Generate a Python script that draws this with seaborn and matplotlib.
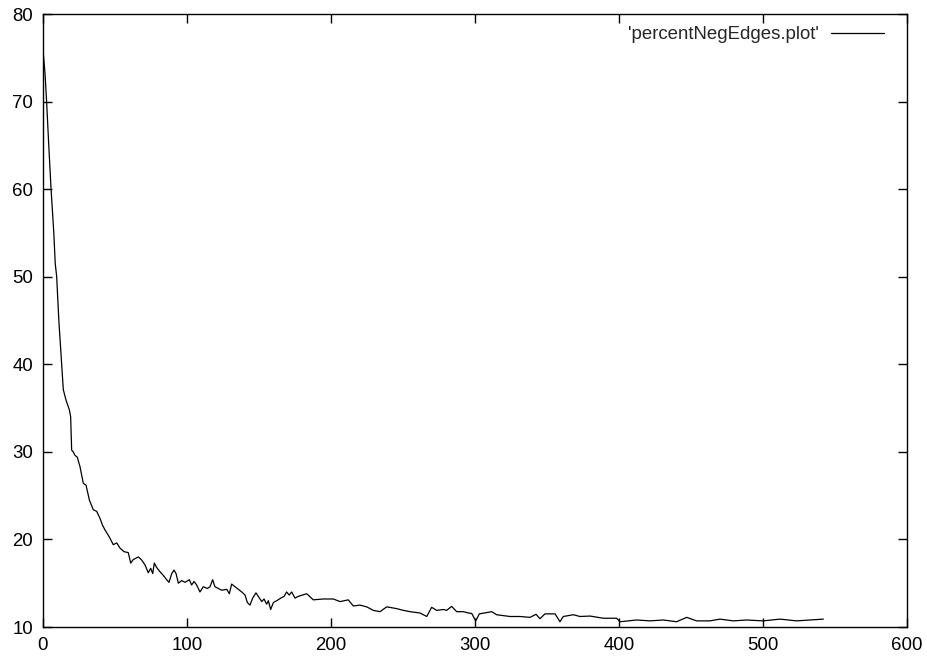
import matplotlib
matplotlib.use("Agg")
import matplotlib.pyplot as plt
import seaborn as sns
import pandas as pd

iteration = [0, 1.4, 2.5, 4, 5.6, 7.5, 8.5, 9.5, 11, 13, 14.1, 16, 18.3, 19.2, 19.9, 21, 22.2,
             23.8, 25.7, 28, 29.9, 32.2, 34.9, 37.3, 39.6, 41.4, 43, 46, 48.8, 51.2, 53.5, 56.3,
             59.2, 60.9, 62.7, 66.2, 68.5, 70.8, 73.1, 74.8, 76.2, 77.3, 78.9, 81.3, 83.5, 85.9,
             87.5, 89.4, 91, 92.4, 94, 96.3, 98.6, 101.6, 103.2, 104.9, 106.7, 109, 111.3, 114.1,
             116, 117.8, 119.4, 121.7, 124.1, 127.6, 129.4, 131, 133.3, 135.6, 138, 140.3, 141.9,
             143.75, 145.6, 147.9, 149.5, 151.9, 153.5, 155.3, 156.5, 158.1, 160, 162.3, 165.1,
             167.4, 169.2, 171, 172.7, 175, 177.3, 183.1, 187.7, 194.7, 201.6, 206.3, 212, 215.5,
             220.1, 224.8, 229.4, 234, 238.7, 245.6, 250.2, 254.9, 261.8, 266.5, 269.9, 273.4,
             278, 280.3, 283.8, 287.3, 291.9, 295.4, 297.7, 300.5, 303, 311.6, 315, 324.3, 331.3,
             338.2, 342.4, 345.1, 348.6, 355.6, 359, 361.3, 368.3, 372.9, 379.9, 389.1, 398.4,
             400.7, 406.5, 412.3, 421.5, 430.8, 440, 447, 453.9, 463.2, 470.1, 479.4, 488.7,
             500.2, 511.8, 523.4, 541.9]

percent_neg = [75.9, 73.2, 70, 65, 60, 55, 51.5, 50, 45, 40, 37.1, 35.9, 34.8, 34.0, 30.2, 30.0,
               29.6, 29.4, 28.3, 26.4, 26.2, 24.5, 23.4, 23.2, 22.4, 21.6, 21.1, 20.3, 19.4, 19.6,
               19.0, 18.6, 18.5, 17.3, 17.7, 18.0, 17.65, 17.1, 16.2, 16.7, 16.1, 17.3, 16.8, 16.3,
               15.9, 15.4, 15.1, 16.1, 16.5, 16.1, 15.0, 15.3, 15.1, 15.4, 14.8, 15.2, 14.8, 14.0,
               14.6, 14.4, 14.6, 15.4, 14.6, 14.4, 14.2, 14.3, 13.8, 14.9, 14.6, 14.3, 14.0, 13.65,
               12.8, 12.5, 13.3, 13.9, 13.5, 12.9, 13.2, 12.6, 13.0, 12.0, 12.8, 13.0, 13.3, 13.5,
               14.0, 13.65, 14.0, 13.3, 13.5, 13.8, 13.1, 13.2, 13.2, 12.9, 13.1, 12.4, 12.5, 12.3,
               11.9, 11.75, 12.3, 12.1, 11.9, 11.75, 11.6, 11.2, 12.25, 11.9, 12.0, 11.9, 12.35,
               11.75, 11.75, 11.6, 11.55, 10.7, 11.5, 11.75, 11.4, 11.2, 11.2, 11.1, 11.45, 10.95,
               11.5, 11.5, 10.6, 11.2, 11.4, 11.2, 11.25, 11.0, 11.0, 10.6, 10.7, 10.8, 10.7, 10.8,
               10.6, 11.1, 10.7, 10.7, 10.9, 10.7, 10.8, 10.7, 10.9, 10.7, 10.9]

series_label = "'percentNegEdges.plot'"
x_ticks = [0, 100, 200, 300, 400, 500, 600]
y_ticks = [10, 20, 30, 40, 50, 60, 70, 80]

df = pd.DataFrame({"x": iteration, "y": percent_neg})

sns.set_style("ticks")
plt.rcParams["font.family"] = ["Liberation Sans", "DejaVu Sans"]

fig = plt.figure(figsize=(9.28, 6.56), dpi=100)
ax = fig.add_axes([43 / 928, 29 / 656, 864 / 928, 613 / 656])

sns.lineplot(data=df, x="x", y="y", ax=ax, color="black", linewidth=0.9,
             estimator=None, sort=False, label=series_label)

ax.set_xlim(0, 600)
ax.set_ylim(10, 80)
ax.set_xticks(x_ticks)
ax.set_yticks(y_ticks)
ax.set_xlabel("")
ax.set_ylabel("")
for s in ax.spines.values():
    s.set_visible(True)
    s.set_color("black")
    s.set_linewidth(1.0)
ax.tick_params(direction="in", length=6.5, width=1.0, top=True, right=True,
               labelsize=13.4, colors="black", pad=7)

leg = ax.legend(loc="upper right", frameon=False, markerfirst=False,
                handlelength=2.85, handletextpad=0.65, borderpad=0, borderaxespad=0,
                fontsize=13.4, bbox_to_anchor=(884 / 928, (656 - 26) / 656),
                bbox_transform=fig.transFigure)

fig.savefig("out.png", dpi=100, facecolor="white")
